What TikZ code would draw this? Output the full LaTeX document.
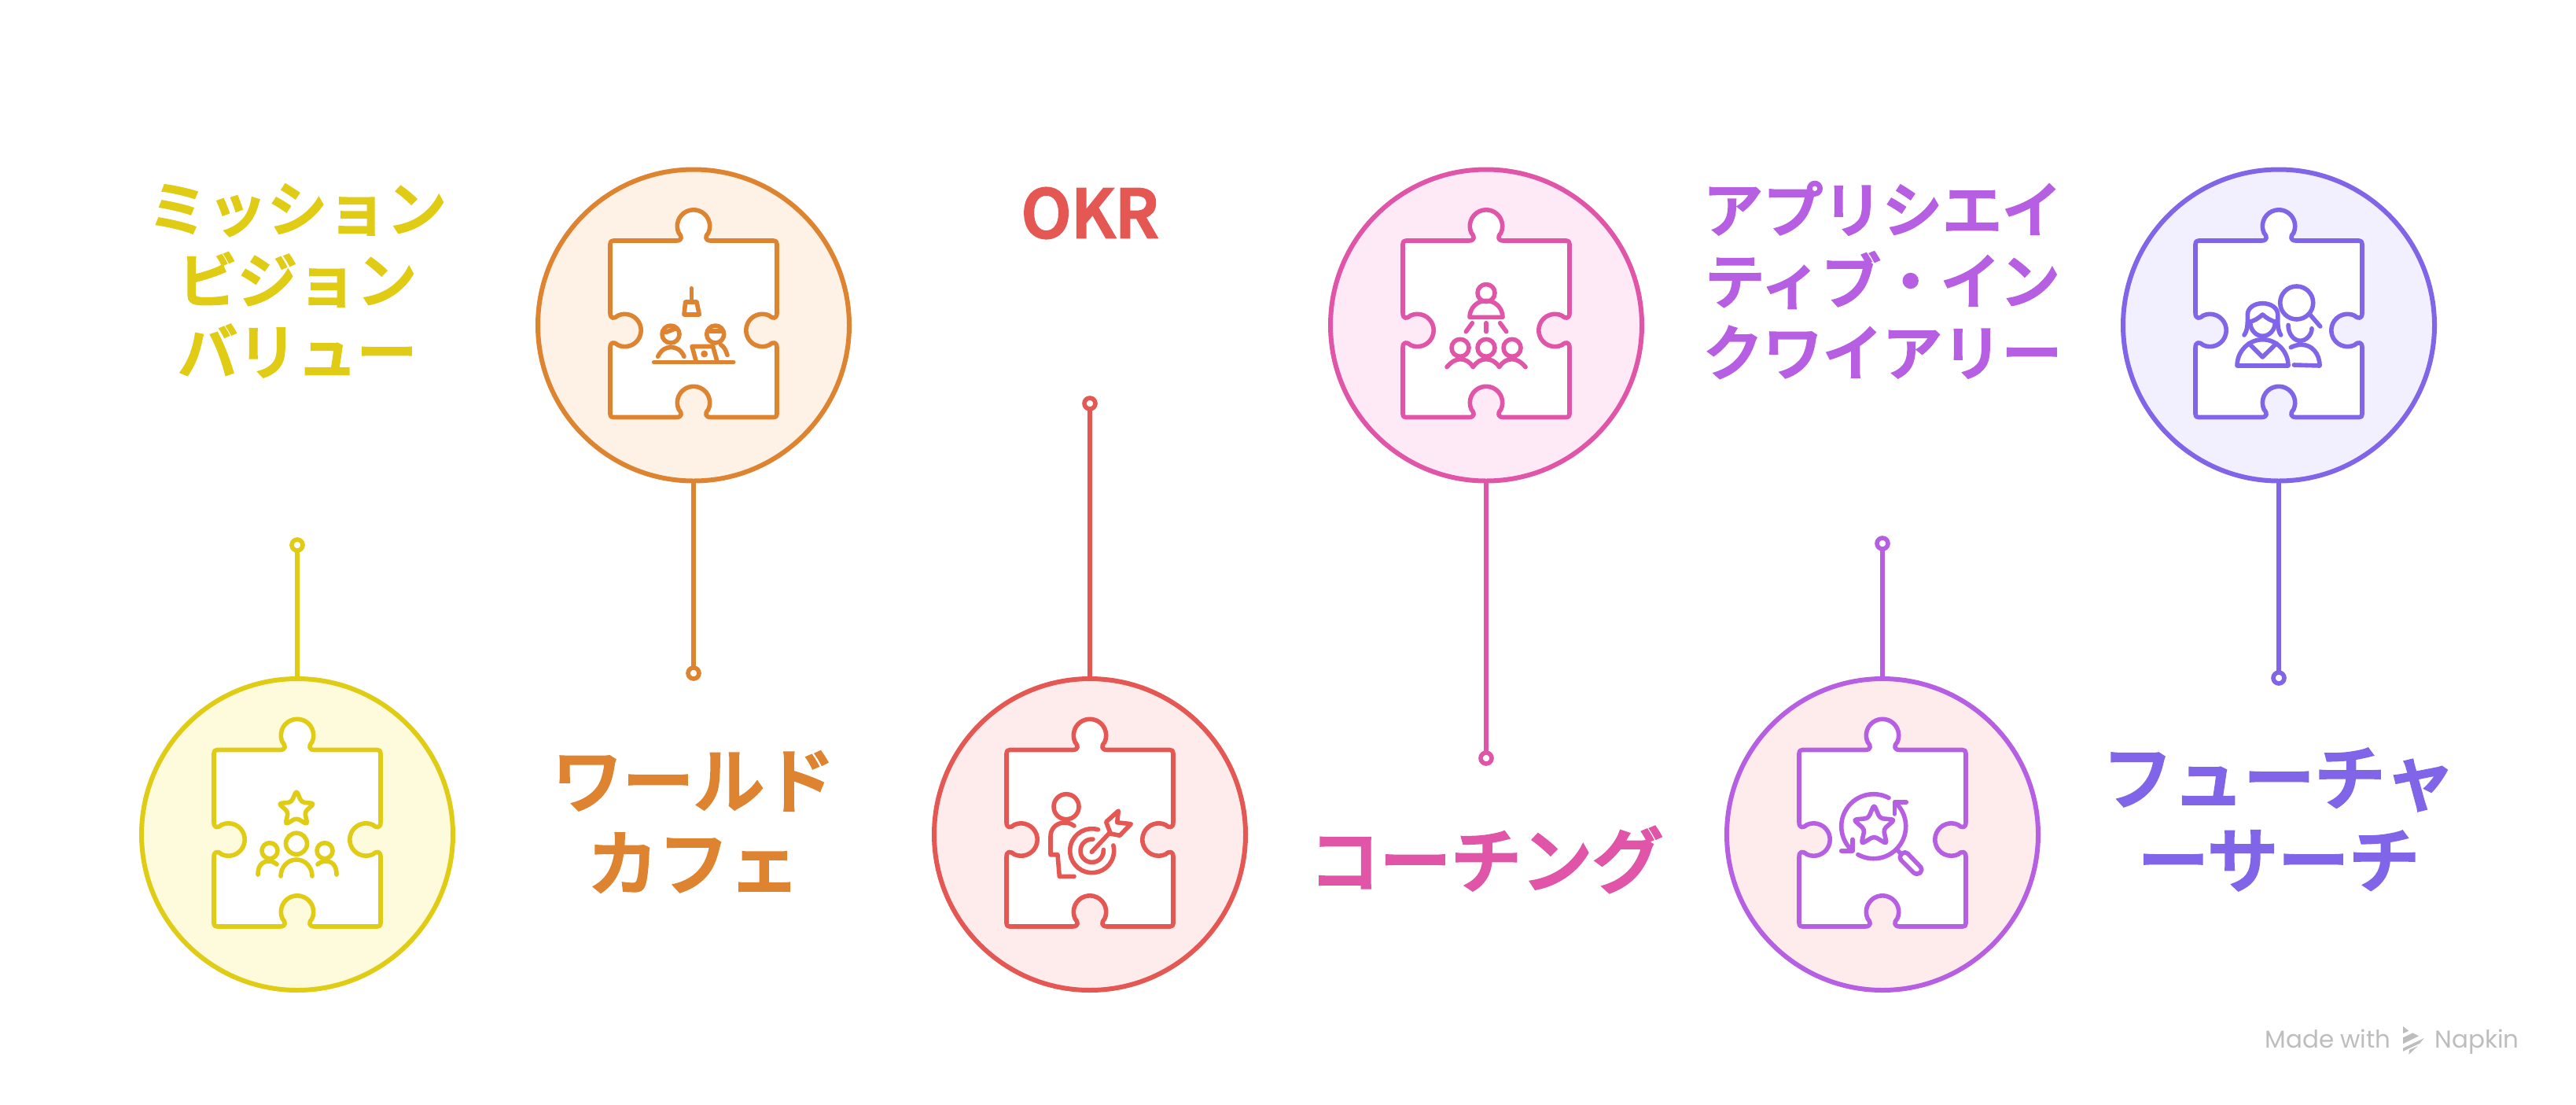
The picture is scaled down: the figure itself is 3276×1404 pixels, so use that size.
\documentclass[tikz,border=0pt]{standalone}
\usepackage{fontspec}
\newfontfamily\jpfont{Noto Sans CJK JP Medium}[FakeBold=3.5]
\newfontfamily\markfont{Poppins}

\definecolor{cYellow}{HTML}{E0CB15}
\definecolor{cYellowBg}{HTML}{FEFADC}
\definecolor{cOrange}{HTML}{DE8431}
\definecolor{cOrangeBg}{HTML}{FEF1E5}
\definecolor{cRed}{HTML}{E55753}
\definecolor{cRedBg}{HTML}{FEECEC}
\definecolor{cPink}{HTML}{E055A8}
\definecolor{cPinkBg}{HTML}{FEE9F7}
\definecolor{cPurple}{HTML}{B75FE3}
\definecolor{cViolet}{HTML}{8065E8}
\definecolor{cVioletBg}{HTML}{F2F0FF}
\definecolor{cMark}{HTML}{BDBDBD}

\tikzset{
  icon/.style={line width=2.8pt, line cap=round, line join=round},
  hub/.style={circle, draw, line width=3pt, minimum size=198pt, inner sep=0pt, outer sep=0pt},
  pin/.style={circle, draw, fill=white, line width=2.8pt, minimum size=7pt, inner sep=0pt, outer sep=0pt},
  link/.style={line width=2.8pt},
  smalltitle/.style={align=center, inner sep=0pt, font=\jpfont\fontsize{38}{45.5}\selectfont},
  bigtitle/.style={align=center, inner sep=0pt, font=\jpfont\fontsize{45}{52.5}\selectfont},
  puzzle/.pic={
    \draw[icon, fill=white] (-102,107.5) -- (-22,107.5)
      .. controls (-15,107.5) and (-14,112) .. (-18.76,117.25)
      arc[start angle=205, end angle=-25, radius=20.7]
      .. controls (14,112) and (15,107.5) .. (22,107.5) -- (102,107.5)
      .. controls (105,107.5) and (106,106) .. (106,103) -- (106,15.5)
      .. controls (106,8.5) and (101.5,7.5) .. (96.24,12.26)
      arc[start angle=65, end angle=295, radius=20.7]
      .. controls (101.5,-20.5) and (106,-21.5) .. (106,-28.5) -- (106,-113)
      .. controls (106,-116) and (105,-117) .. (102,-117) -- (22,-117)
      .. controls (15,-117) and (14,-112.5) .. (18.76,-107.25)
      arc[start angle=-25, end angle=205, radius=20.7]
      .. controls (-14,-112.5) and (-15,-117) .. (-22,-117) -- (-102,-117)
      .. controls (-105,-117) and (-106,-116) .. (-106,-113) -- (-106,-28.5)
      .. controls (-106,-21.5) and (-101.5,-20.5) .. (-96.24,-25.26)
      arc[start angle=245, end angle=475, radius=20.7]
      .. controls (-101.5,7.5) and (-106,8.5) .. (-106,15.5) -- (-106,103)
      .. controls (-106,106) and (-105,107.5) .. (-102,107.5) -- cycle;
  },
  starmark/.pic={
    \draw[icon, rounded corners=2pt] (90:24) -- (126:11) -- (162:24) -- (198:11) -- (234:24)
      -- (270:11) -- (306:24) -- (342:11) -- (18:24) -- (54:11) -- cycle;
  },
  missionicon/.pic={
    \pic at (-1,32) {starmark};
    \draw[icon] (-1,-11.7) circle[radius=13.5];
    \draw[icon] (-35,-20.7) circle[radius=10];
    \draw[icon] (35,-20.7) circle[radius=10];
    \draw[icon] (-21,-53) arc[start angle=180, end angle=0, x radius=20, y radius=21];
    \draw[icon] (-50,-51) .. controls (-50,-40) and (-45,-34) .. (-36,-34) .. controls (-32,-34) and (-28,-36) .. (-26,-38);
    \draw[icon] (50,-51) .. controls (50,-40) and (45,-34) .. (36,-34) .. controls (32,-34) and (28,-36) .. (26,-38);
  },
  cafeicon/.pic={
    \draw[icon] (-2.7,46.8) -- (-2.7,29.5);
    \draw[icon] (-10.3,29.5) -- (4,29.5) -- (7.3,13.5) -- (-12,13.5) -- cycle;
    \draw[icon] (-29,-11.5) circle[radius=11];
    \draw[icon] (27.7,-11.5) circle[radius=11];
    \draw[icon] (-35.3,-9) -- (-22,-4);
    \draw[icon] (21,-7.5) -- (35,-7.5);
    \draw[icon] (-45.3,-39.8) .. controls (-41,-31) and (-35,-28) .. (-28.7,-28) .. controls (-22,-28) and (-16,-31) .. (-12,-39.8);
    \draw[icon] (34.7,-25) .. controls (39,-27) and (41,-32) .. (43,-38);
    \draw[icon] (29.7,-45) -- (24.7,-27) -- (-2,-27) -- (3,-45);
    \fill (13.7,-36.5) circle[radius=4.5];
    \draw[icon] (-50.3,-47) -- (50.7,-47);
  },
  okricon/.pic={
    \draw[icon] (-30,35.3) circle[radius=16];
    \draw[icon] (-20,11) .. controls (-25,14.5) and (-30,15.5) .. (-34,15)
      .. controls (-44,14) and (-50,6) .. (-50,-2.3) -- (-50,-25.7) -- (-41,-25.7) -- (-38.7,-53.3) -- (-20,-53.3);
    \draw[icon] (2.7,-20.7) ++(74:28) arc[start angle=74, end angle=374, radius=28];
    \draw[icon] (2.7,-20.7) ++(85:14.7) arc[start angle=85, end angle=365, radius=14.7];
    \draw[icon] (2.3,-22.3) -- (25.7,2.7);
    \draw[icon] (20.7,16) -- (36.3,30) -- (34.7,15.3) -- (52.3,13.3) -- (38,-1.3) -- (26.3,1) -- cycle;
  },
  coachicon/.pic={
    \draw[icon] (0,41) circle[radius=11];
    \draw[icon] (-21,10.2) arc[start angle=180, end angle=0, radius=21] -- cycle;
    \draw[icon] (-17.7,2.8) -- (-25.7,-8.2);
    \draw[icon] (0,2.8) -- (0,-8.2);
    \draw[icon] (17.7,2.8) -- (25.7,-8.2);
    \draw[icon] (-33,-28.8) circle[radius=11];
    \draw[icon] (0,-28.8) circle[radius=11];
    \draw[icon] (33,-28.8) circle[radius=11];
    \draw[icon] (-50,-53.2) .. controls (-44,-46) and (-38,-43.2) .. (-33,-43.2)
      .. controls (-27,-43.2) and (-21,-46) .. (-16.7,-53.2)
      .. controls (-12,-46) and (-6,-43.2) .. (0,-43.2)
      .. controls (6,-43.2) and (12,-46) .. (16.7,-53.2)
      .. controls (21,-46) and (27,-43.2) .. (33,-43.2)
      .. controls (38,-43.2) and (44,-46) .. (50,-53.2);
  },
  inquiryicon/.pic={
    \pic[scale=1.15] at (-10.7,10.3) {starmark};
    \draw[icon] (-11.3,10.3) ++(62:41) arc[start angle=62, end angle=223, radius=41];
    \draw[icon] (-38,-6.3) -- (-38,-20.7) -- (-52.3,-20.7);
    \draw[icon] (-11.3,10.3) ++(241:41) arc[start angle=241, end angle=401, radius=41];
    \draw[icon] (15.3,26) -- (15.3,41) -- (30.3,41);
    \draw[icon] (18,-19) -- (24,-25);
    \draw[icon, rounded corners=2.5pt] (28.7,-20.7) -- (52,-45) -- (43.3,-52.3) -- (20,-29) -- cycle;
  },
  futureicon/.pic={
    \draw[icon] (22.7,28.5) circle[radius=21];
    \draw[icon] (40.3,12.8) -- (52.7,-1.5);
    \draw[icon] (12,0.2) .. controls (12,-12) and (20,-19.8) .. (27,-19.8) .. controls (35,-19.8) and (42,-12) .. (42,-4.2);
    \draw[icon] (15.3,-28.2) .. controls (22,-25) and (26,-24.8) .. (29,-24.8) .. controls (42,-24.8) and (52,-36) .. (52,-51.5) -- (19.3,-50.5);
    \draw[icon] (-44,-12.5) .. controls (-39,-6) and (-39.7,6) .. (-39.7,13.5) .. controls (-39.7,22) and (-31,27.8) .. (-20.7,27.8)
      .. controls (-10,27.8) and (-1.3,22) .. (-1.3,13.5) .. controls (-1.3,6) and (-2,-6) .. (2.7,-12.5);
    \draw[icon] (-36.3,3.5) .. controls (-36.3,-6) and (-29,-13.8) .. (-20.7,-13.8) .. controls (-12,-13.8) and (-4.7,-6) .. (-4.7,3.5);
    \draw[icon] (-38.7,4.2) .. controls (-31,5) and (-26,9) .. (-20.7,13.5) .. controls (-15,9) and (-10,5) .. (-2,4.2);
    \draw[icon] (-53,-51.5) .. controls (-53,-33) and (-38,-18.2) .. (-20.5,-18.2) .. controls (-3,-18.2) and (12,-33) .. (12,-51.5) -- cycle;
    \draw[icon] (-38,-23.2) -- (-20.7,-40.5) -- (-3,-23.2);
  }
}

\begin{document}
\begin{tikzpicture}[x=0.5pt, y=0.5pt]
  \useasboundingbox (0,0) rectangle (3276,-1404);

  % hubs
  \node[hub, draw=cYellow, fill=cYellowBg] (mission) at (378,-1061) {};
  \node[hub, draw=cOrange, fill=cOrangeBg] (cafe) at (882,-413.5) {};
  \node[hub, draw=cRed, fill=cRedBg] (okr) at (1386,-1061) {};
  \node[hub, draw=cPink, fill=cPinkBg] (coach) at (1890,-413.5) {};
  \node[hub, draw=cPurple, fill=cRedBg] (inquiry) at (2394,-1061) {};
  \node[hub, draw=cViolet, fill=cVioletBg] (future) at (2898,-413.5) {};

  % pieces with their icons
  \pic[color=cYellow] at (mission.center) {puzzle};
  \pic[color=cYellow] at (mission.center) {missionicon};
  \pic[color=cOrange] at (cafe.center) {puzzle};
  \pic[color=cOrange] at (cafe.center) {cafeicon};
  \pic[color=cRed] at (okr.center) {puzzle};
  \pic[color=cRed] at (okr.center) {okricon};
  \pic[color=cPink] at (coach.center) {puzzle};
  \pic[color=cPink] at (coach.center) {coachicon};
  \pic[color=cPurple] at (inquiry.center) {puzzle};
  \pic[color=cPurple] at (inquiry.center) {inquiryicon};
  \pic[color=cViolet] at (future.center) {puzzle};
  \pic[color=cViolet] at (future.center) {futureicon};

  % pins
  \node[pin, draw=cYellow] (missionPin) at (378,-693) {};
  \node[pin, draw=cOrange] (cafePin) at (882,-856) {};
  \node[pin, draw=cRed] (okrPin) at (1386,-513) {};
  \node[pin, draw=cPink] (coachPin) at (1890,-964) {};
  \node[pin, draw=cPurple] (inquiryPin) at (2394,-691) {};
  \node[pin, draw=cViolet] (futurePin) at (2898,-862) {};

  \draw[link, cYellow] (missionPin) -- (mission);
  \draw[link, cOrange] (cafe) -- (cafePin);
  \draw[link, cRed] (okrPin) -- (okr);
  \draw[link, cPink] (coach) -- (coachPin);
  \draw[link, cPurple] (inquiryPin) -- (inquiry);
  \draw[link, cViolet] (future) -- (futurePin);

  % titles
  \node[smalltitle, text=cYellow] (missionText) at (378,-357) {ミッション\\ビジョン\\バリュー};
  \node[bigtitle, text=cOrange] (cafeText) at (882,-1045) {ワールド\\カフェ};
  \node[bigtitle, text=cRed, font=\jpfont\fontsize{42}{50}\selectfont] (okrText) at (1386,-271) {OKR};
  \node[bigtitle, text=cPink] (coachText) at (1890,-1093) {コーチング};
  \node[smalltitle, text=cPurple] (inquiryText) at (2394,-356) {アプリシエイ\\ティブ・イン\\クワイアリー};
  \node[bigtitle, text=cViolet] (futureText) at (2898,-1042) {フューチャ\\ーサーチ};

  % watermark
  \node[anchor=base west, inner sep=0pt, text=cMark, font=\markfont\fontsize{15.5}{18}\selectfont] (madeText) at (2880,-1332) {Made with};
  \node[anchor=base west, inner sep=0pt, text=cMark, font=\markfont\fontsize{15.5}{18}\selectfont] (napkinText) at (3096,-1332) {Napkin};
  \fill[cMark] (3056,-1305) -- (3063.3,-1310.7) -- (3056,-1314) -- cycle;
  \fill[cMark] (3056,-1319.3) -- (3068.3,-1313.3) -- (3076,-1317.3) -- (3056,-1327.3) -- cycle;
  \fill[cMark] (3056,-1332.7) -- (3082.7,-1320) -- (3077.3,-1326.7) -- (3056,-1336.7) -- cycle;
  \fill[cMark] (3063.3,-1340.7) -- (3064,-1335) -- (3075,-1330) -- cycle;
\end{tikzpicture}
\end{document}
